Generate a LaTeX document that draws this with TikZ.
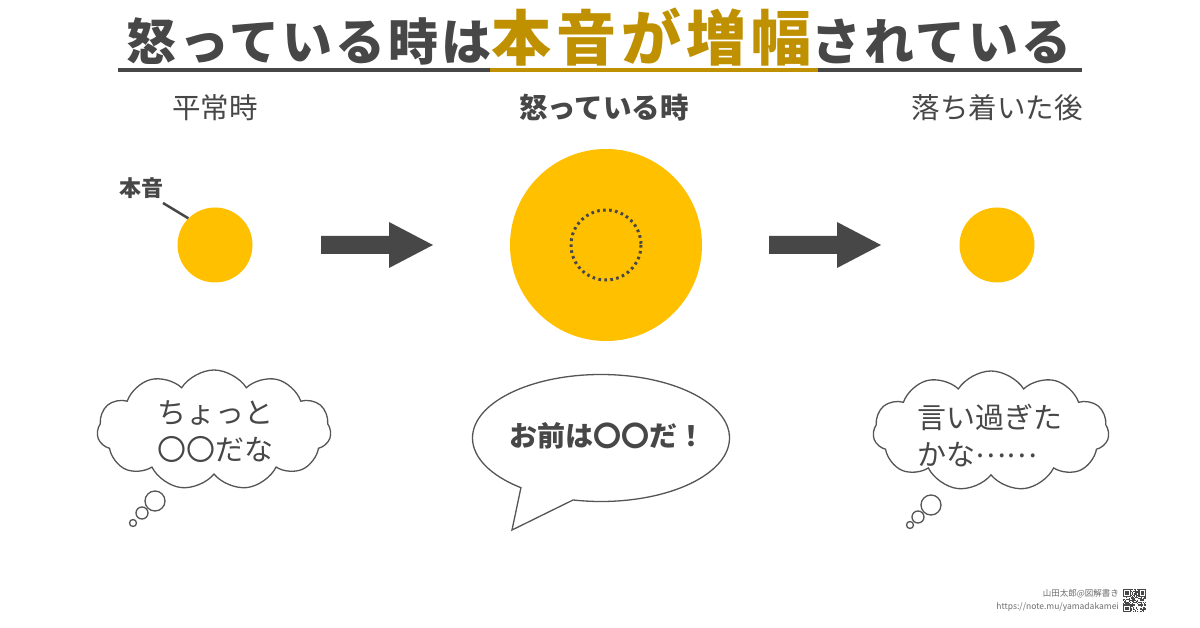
\documentclass[tikz,border=0pt]{standalone}
\usepackage{fontspec}
\setmainfont{Noto Sans CJK JP}
\usetikzlibrary{shapes.symbols,shapes.callouts}
\definecolor{dark}{HTML}{474747}
\definecolor{gold}{HTML}{BF9000}
\definecolor{sun}{HTML}{FFC000}
\definecolor{lineg}{HTML}{555555}
\begin{document}
\begin{tikzpicture}[x=1pt,y=-1pt,
  sub/.style={text=dark,font=\fontsize{28.5}{28.5}\selectfont},
  subb/.style={text=dark,font=\fontsize{28.5}{28.5}\selectfont\bfseries},
  sunc/.style={circle,fill=sun,inner sep=0pt},
  blockarrow/.style={fill=dark},
  cloudb/.style={cloud,cloud puffs=11,cloud puff arc=115,aspect=2,draw=lineg,line width=1.3pt,fill=white,inner sep=0pt},
  puff/.style={circle,draw=lineg,line width=1.3pt,fill=white,inner sep=0pt},
  btext/.style={text=dark,font=\fontsize{29}{37}\selectfont,align=left},
  foot/.style={text=dark!80,font=\fontsize{8.5}{9}\selectfont,anchor=east,inner sep=0pt}]
\useasboundingbox (0,0) rectangle (1200,628);
\fill[white] (0,0) rectangle (1200,628);
% title
\node[text=dark,anchor=base,inner sep=0pt,font=\fontsize{50}{50}\selectfont\bfseries\addfontfeature{LetterSpace=6}] (title) at (599,61)
  {怒っている時は{\fontsize{60}{60}\selectfont\addfontfeature{LetterSpace=8}\color{gold}本音が増幅}されている};
\draw[dark,line width=3.5pt] (118,70) -- (490,70);
\draw[gold,line width=3.5pt] (490,70) -- (818,70);
\draw[dark,line width=3.5pt] (818,70) -- (1082,70);
% subtitles
\node[sub] (s1) at (215,108) {平常時};
\node[subb] (s2) at (604,108) {怒っている時};
\node[sub] (s3) at (997,108) {落ち着いた後};
% circles
\node[sunc,minimum size=75pt] (c1) at (215,245) {};
\node[sunc,minimum size=192pt] (c2) at (606,245) {};
\draw[dark,line width=3pt,dash pattern=on 2.6pt off 3.4pt] (c2.center) circle[radius=35];
\node[sunc,minimum size=75pt] (c3) at (997,245) {};
% label
\node[text=dark,font=\fontsize{22}{22}\selectfont\bfseries] (lbl) at (141,188) {本音};
\coordinate (lblend) at (163,203);
\draw[dark,line width=2.5pt] (lblend) -- (c1.135);
% arrows
\foreach \x/\n in {321/a1,769/a2}{
  \fill[blockarrow] (\x,236) -- (\x+68,236) -- (\x+68,222) -- (\x+112,245) -- (\x+68,268) -- (\x+68,254) -- (\x,254) -- cycle;
}
% left thought bubble
\node[cloudb,minimum width=234pt,minimum height=120pt] (b1) at (214,430) {};
\node[btext] (t1) at (215,432) {ちょっと\\〇〇だな};
\node[puff,minimum size=20pt] (p13) at (155,501) {};
\node[puff,minimum size=12pt] (p12) at (142,513) {};
\node[puff,minimum size=7pt] (p11) at (133,523) {};
% speech bubble
\node[ellipse callout,draw=lineg,line width=1.3pt,fill=white,minimum width=257pt,minimum height=127pt,
  callout absolute pointer={(512,530)},callout pointer arc=26] (b2) at (601,438) {};
\node[text=dark,font=\fontsize{28}{28}\selectfont\bfseries] (t2) at (607,436) {お前は〇〇だ！};
% right thought bubble
\node[cloudb,minimum width=236pt,minimum height=120pt] (b3) at (991,431) {};
\node[btext] (t3) at (990,436) {言い過ぎた\\かな\raisebox{0.3em}{……}};
\node[puff,minimum size=20pt] (p33) at (931,505) {};
\node[puff,minimum size=12pt] (p32) at (918,517) {};
\node[puff,minimum size=7pt] (p31) at (910,525) {};
% footer
\node[foot] (f1) at (1119,594) {山田太郎@図解書き};
\node[foot] (f2) at (1119,607) {https://note.mu/yamadakamei};
% QR
\begin{scope}[shift={(1123,589)}]
\pgfmathsetseed{11}
\foreach \i in {0,...,20}{\foreach \j in {0,...,20}{
  \pgfmathtruncatemacro\r{rnd>0.5}
  \ifnum\r=1 \fill[dark] (\i*1.1,\j*1.1) rectangle ++(1.1,1.1);\fi}}
\foreach \a/\b in {0/0,14/0,0/14}{
  \fill[white] (\a*1.1,\b*1.1) rectangle ++(7.7,7.7);
  \fill[dark] (\a*1.1,\b*1.1) rectangle ++(7.7,7.7);
  \fill[white] (\a*1.1+1.1,\b*1.1+1.1) rectangle ++(5.5,5.5);
  \fill[dark] (\a*1.1+2.2,\b*1.1+2.2) rectangle ++(3.3,3.3);}
\end{scope}
\end{tikzpicture}
\end{document}
